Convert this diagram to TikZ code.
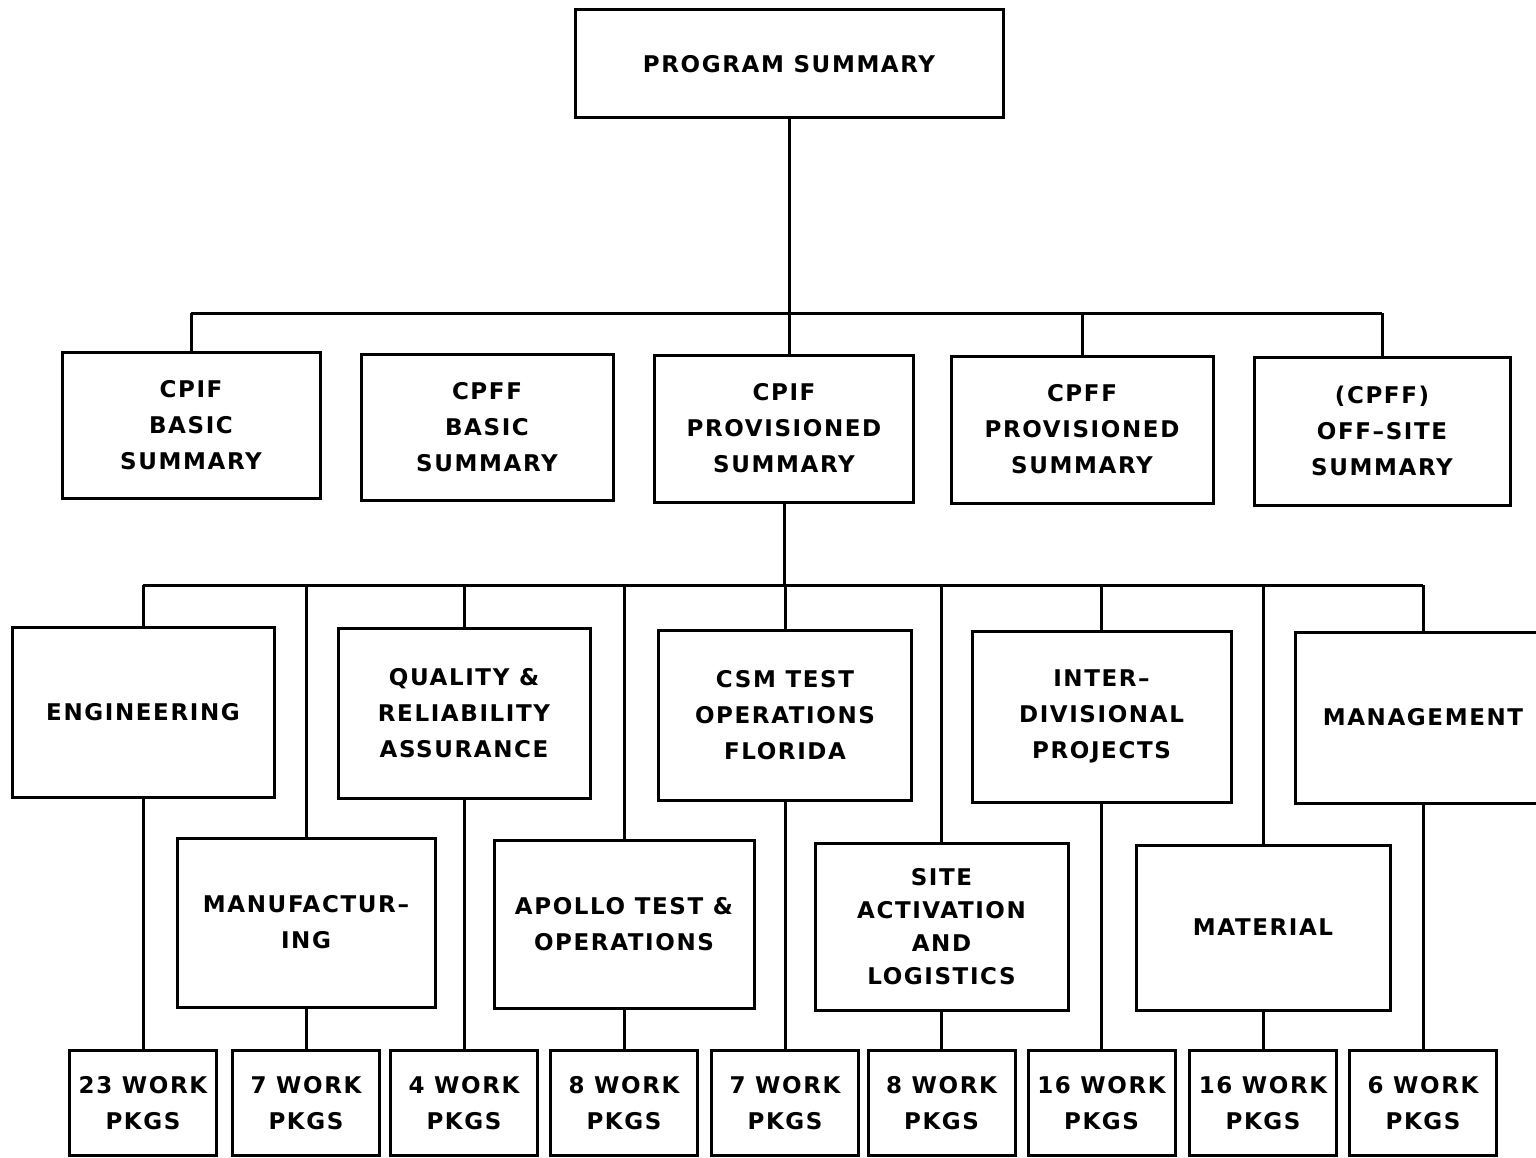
\documentclass[tikz,border=0pt]{standalone}
\usepackage{fontspec}
\newfontfamily\chartfont[LetterSpace=7]{DejaVu Sans}
\begin{document}
\begin{tikzpicture}[x=1pt,y=-1pt,line width=3pt,
  box/.style={draw,rectangle,align=center,inner sep=0pt,
    font=\chartfont\bfseries\fontsize{23}{36}\selectfont},
  wbox/.style={box,minimum width=147pt,minimum height=105pt}]
\clip (0,0) rectangle (1536,1158);
\fill[white] (0,0) rectangle (1536,1158);
% top
\node[box,minimum width=428pt,minimum height=108pt] (ps) at (789,64) {PROGRAM SUMMARY};
% level 2
\node[box,minimum width=258pt,minimum height=146pt] (a) at (191,425) {CPIF\\BASIC\\SUMMARY};
\node[box,minimum width=252pt,minimum height=146pt] (b) at (487,427) {CPFF\\BASIC\\SUMMARY};
\node[box,minimum width=259pt,minimum height=147pt] (c) at (784,428.5) {CPIF\\PROVISIONED\\SUMMARY};
\node[box,minimum width=262pt,minimum height=147pt] (d) at (1082,429.5) {CPFF\\PROVISIONED\\SUMMARY};
\node[box,minimum width=256pt,minimum height=148pt] (e) at (1382,431) {(CPFF)\\OFF–SITE\\SUMMARY};
\coordinate (bus1) at (0,313);
\draw (ps.south) -- (ps.south |- c.north);
\draw (a.north |- bus1) -- (e.north |- bus1);
\foreach \n in {a,d,e} \draw (\n.north) -- (\n.north |- bus1);
% level 3 upper
\node[box,minimum width=262pt,minimum height=170pt] (eng) at (143,712) {ENGINEERING};
\node[box,minimum width=252pt,minimum height=170pt] (qra) at (464,713) {QUALITY \&\\RELIABILITY\\ASSURANCE};
\node[box,minimum width=253pt,minimum height=170pt] (csm) at (785,715) {CSM TEST\\OPERATIONS\\FLORIDA};
\node[box,minimum width=259pt,minimum height=171pt] (idp) at (1101.5,716.5) {INTER–\\DIVISIONAL\\PROJECTS};
\node[box,minimum width=256pt,minimum height=171pt] (mgt) at (1423,717.5) {MANAGEMENT};
% level 3 lower
\node[box,minimum width=258pt,minimum height=169pt] (mfg) at (306,922.5) {MANUFACTUR–\\ING};
\node[box,minimum width=260pt,minimum height=168pt] (apo) at (624,924) {APOLLO TEST \&\\OPERATIONS};
\node[box,minimum width=253pt,minimum height=167pt,font=\chartfont\bfseries\fontsize{23}{33}\selectfont] (sal) at (941.5,926.5) {SITE\\ACTIVATION\\AND\\LOGISTICS};
\node[box,minimum width=254pt,minimum height=165pt] (mat) at (1263,927.5) {MATERIAL};
\coordinate (bus2) at (0,585);
\draw (c.south) -- (c.south |- bus2);
\draw (eng.north |- bus2) -- (mgt.north |- bus2);
\foreach \n in {eng,mfg,qra,apo,csm,sal,idp,mat,mgt} \draw (\n.north) -- (\n.north |- bus2);
% work packages
\node[wbox] (w1) at (143,1103) {23 WORK\\PKGS};
\node[wbox] (w2) at (306,1103) {7 WORK\\PKGS};
\node[wbox] (w3) at (464,1103) {4 WORK\\PKGS};
\node[wbox] (w4) at (624,1103) {8 WORK\\PKGS};
\node[wbox] (w5) at (785,1103) {7 WORK\\PKGS};
\node[wbox] (w6) at (941.5,1103) {8 WORK\\PKGS};
\node[wbox] (w7) at (1101.5,1103) {16 WORK\\PKGS};
\node[wbox] (w8) at (1263,1103) {16 WORK\\PKGS};
\node[wbox] (w9) at (1423,1103) {6 WORK\\PKGS};
\draw (eng.south) -- (w1.north);
\draw (mfg.south) -- (w2.north);
\draw (qra.south) -- (w3.north);
\draw (apo.south) -- (w4.north);
\draw (csm.south) -- (w5.north);
\draw (sal.south) -- (w6.north);
\draw (idp.south) -- (w7.north);
\draw (mat.south) -- (w8.north);
\draw (mgt.south) -- (w9.north);
\end{tikzpicture}
\end{document}
